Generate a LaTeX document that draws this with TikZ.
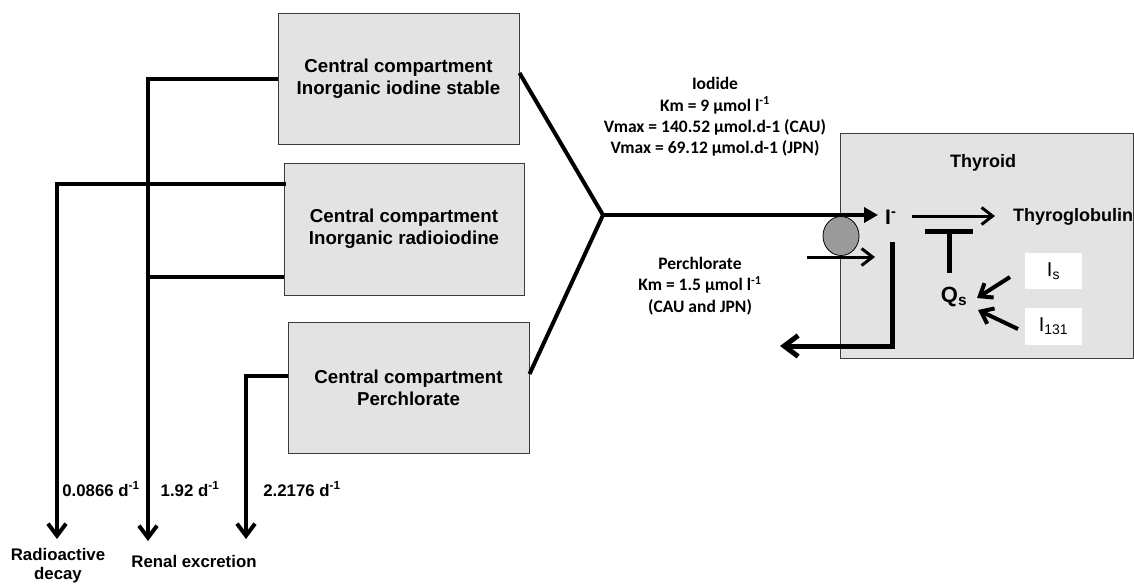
\documentclass[tikz,border=0pt]{standalone}
\usepackage{fontspec}
\setmainfont{Liberation Sans}
\newfontfamily\calib{Carlito}
\usetikzlibrary{arrows.meta,shapes.geometric}
\definecolor{boxgray}{RGB}{227,227,227}
\definecolor{boxborder}{RGB}{60,60,60}
\definecolor{pumpgray}{RGB}{155,155,155}
\begin{document}
\begin{tikzpicture}[x=1pt,y=-1pt,
  comp/.style={draw=boxborder, line width=1pt, fill=boxgray, minimum width=241pt,
    minimum height=131pt, align=center, inner sep=0pt,
    font=\bfseries\fontsize{18.7}{22}\selectfont},
  flow/.style={line width=4pt, line join=miter},
  barb/.style={-{Straight Barb[length=12pt,width=18pt]}},
  bigbarb/.style={-{Straight Barb[length=14pt,width=21pt]}},
  smallbarb/.style={-{Straight Barb[length=11pt,width=17pt]}},
  ratelbl/.style={font=\bfseries\fontsize{16.8}{18}\selectfont, inner sep=0pt},
  calibtxt/.style={font=\calib\bfseries\fontsize{17.5}{21.3}\selectfont, align=center, inner sep=0pt},
  whitebox/.style={fill=white, minimum width=57pt, minimum height=36pt, inner sep=0pt,
    font=\fontsize{20}{20}\selectfont}
]
\useasboundingbox (0,0) rectangle (1134,584);

% compartments
\node[comp] (c1) at (398.5,78.5) {Central compartment\\Inorganic iodine stable};
\node[comp, minimum width=240pt, minimum height=132pt] (c2) at (404,229) {Central compartment\\Inorganic radioiodine};
\node[comp] (c3) at (408.5,388) {Central compartment\\Perchlorate};

% thyroid box
\node[draw=boxborder, line width=1pt, fill=boxgray, minimum width=293pt, minimum height=225pt, inner sep=0pt] (thy) at (986.5,245.5) {};
\node[font=\bfseries\fontsize{18}{18}\selectfont, inner sep=0pt] (thylbl) at (983,163) {Thyroid};

% coordinates
\coordinate (J) at (603,215);
\coordinate (tipIn) at (878,215);
\coordinate (renalEnd) at (148,541);
\coordinate (decayEnd) at (57,539);
\coordinate (perEnd) at (246,539);

% junction lines
\draw[flow] ([yshift=5.5pt]c1.east) -- (J) -- ([yshift=14pt]c3.east);
\draw[flow,-{Triangle[length=14pt,width=15pt]}] (J) -- (tipIn);

% left elimination lines
\draw[flow] ([yshift=-48pt]c2.west) -- ([yshift=-48pt]c2.west -| renalEnd);
\draw[flow,barb] (c1.west) -| (renalEnd);
\draw[flow,barb] ([yshift=45pt,xshift=2pt]c2.west) -| (decayEnd);
\draw[flow,barb] ([yshift=12pt]c3.west) -| (perEnd);

% rate labels
\node[ratelbl] (r1) at (101,489) {0.0866 d\textsuperscript{-1}};
\node[ratelbl] (r2) at (190,489) {1.92 d\textsuperscript{-1}};
\node[ratelbl] (r3) at (302,489) {2.2176 d\textsuperscript{-1}};
\node[ratelbl, align=center, font=\bfseries\fontsize{16.8}{19}\selectfont] (decay) at (58,566) {Radioactive\\decay};
\node[ratelbl] (renal) at (194,561) {Renal excretion};

% transport labels
\node[calibtxt] (iod) at (715,117) {Iodide\\Km = 9 µmol l\textsuperscript{-1}\\Vmax = 140.52 µmol.d-1 (CAU)\\Vmax = 69.12 µmol.d-1 (JPN)};
\node[calibtxt] (perc) at (700,286) {Perchlorate\\Km = 1.5 µmol l\textsuperscript{-1}\\(CAU and JPN)};

% transporter
\node[draw=black, line width=0.8pt, fill=pumpgray, ellipse, minimum width=36pt, minimum height=39pt, inner sep=0pt] (pump) at (841,236) {};
\coordinate (inS) at (807,257);
\coordinate (inE) at (875,257);
\draw[line width=3pt, smallbarb] (inS) -- (inE);

% inside thyroid
\node[font=\bfseries\fontsize{21}{21}\selectfont, anchor=west, inner sep=0pt] (iminus) at (885,217) {I\textsuperscript{-}};
\node[font=\bfseries\fontsize{18}{18}\selectfont, anchor=west, inner sep=0pt] (tg) at (1013,217) {Thyroglobulin};
\coordinate (tgS) at (912,216);
\coordinate (tgE) at (995,216);
\draw[line width=3pt, smallbarb] (tgS) -- (tgE);

\coordinate (tbL) at (925,231);
\coordinate (tbR) at (973,231);
\coordinate (tbS) at (949,231);
\coordinate (tbE) at (949,273);
\draw[line width=5pt] (tbL) -- (tbR);
\draw[line width=5pt] (tbS) -- (tbE);

\node[font=\bfseries\fontsize{22}{22}\selectfont, inner sep=0pt] (qs) at (954,297) {Q\textsubscript{s}};
\node[whitebox] (is) at (1053.5,271) {I\textsubscript{s}};
\node[whitebox, minimum height=37pt] (i131) at (1053.5,326.5) {I\textsubscript{131}};
\coordinate (a1S) at (1010,277);
\coordinate (a1E) at (977,298);
\coordinate (a2S) at (1018,329);
\coordinate (a2E) at (978,310);
\draw[line width=4pt, smallbarb] (a1S) -- (a1E);
\draw[line width=4pt, smallbarb] (a2S) -- (a2E);

\coordinate (efS) at (892,242);
\coordinate (efC) at (892,346);
\coordinate (efE) at (780,346);
\draw[line width=5pt, bigbarb] (efS) -- (efC) -- (efE);
\end{tikzpicture}
\end{document}
